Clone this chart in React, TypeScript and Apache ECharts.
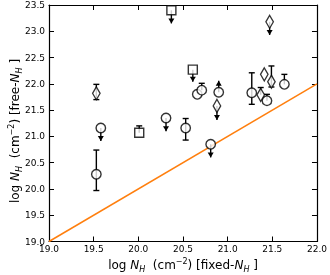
import React, { useEffect, useRef } from "react";
import * as echarts from "echarts";

// [x, y, yLow, yHigh, limit]  limit: 0 = error bar, -1 = upper limit (arrow down), 1 = lower limit (arrow up)
const circlePoints: number[][] = [
  [19.53, 20.28, 19.97, 20.74, 0],
  [19.58, 21.16, 20.91, 21.16, -1],
  [20.31, 21.35, 21.1, 21.35, -1],
  [20.53, 21.16, 20.93, 21.34, 0],
  [20.66, 21.8, 21.8, 21.8, 0],
  [20.71, 21.88, 21.88, 22.01, 0],
  [20.9, 21.84, 21.84, 22.06, 1],
  [20.81, 20.85, 20.6, 20.85, -1],
  [21.27, 21.83, 21.61, 22.21, 0],
  [21.44, 21.68, 21.68, 21.8, 0],
  [21.635, 21.99, 21.99, 22.18, 0],
];
const squarePoints: number[][] = [
  [20.01, 21.07, 21.07, 21.2, 0],
  [20.37, 23.4, 23.15, 23.4, -1],
  [20.61, 22.27, 22.04, 22.27, -1],
];
const diamondPoints: number[][] = [
  [19.53, 21.82, 21.7, 21.99, 0],
  [20.88, 21.58, 21.31, 21.58, -1],
  [21.37, 21.79, 21.79, 21.93, 0],
  [21.41, 22.18, 22.18, 22.18, 0],
  [21.49, 22.04, 21.94, 22.34, 0],
  [21.47, 23.18, 22.93, 23.18, -1],
];
const oneToOne: number[][] = [
  [19, 19],
  [22, 22],
];
const xRange = [19, 22];
const yRange = [19, 23.5];
const tickStep = 0.5;

const FONT = "DejaVu Sans";

function renderErr(params: any, api: any) {
  const x = api.value(0);
  const y = api.value(1);
  const lo = api.value(2);
  const hi = api.value(3);
  const lim = api.value(4);
  const pc = api.coord([x, y]);
  const pl = api.coord([x, lo]);
  const ph = api.coord([x, hi]);
  const st = { stroke: "#000", lineWidth: 1.4 };
  const children: any[] = [];
  children.push({ type: "line", shape: { x1: pc[0], y1: pl[1], x2: pc[0], y2: ph[1] }, style: st });
  const cw = 3;
  if (lim === 0) {
    if (Math.abs(lo - y) > 1e-6)
      children.push({ type: "line", shape: { x1: pc[0] - cw, y1: pl[1], x2: pc[0] + cw, y2: pl[1] }, style: st });
    if (Math.abs(hi - y) > 1e-6)
      children.push({ type: "line", shape: { x1: pc[0] - cw, y1: ph[1], x2: pc[0] + cw, y2: ph[1] }, style: st });
  } else if (lim === -1) {
    children.push({
      type: "polygon",
      shape: { points: [[pc[0] - 3, pl[1] - 5], [pc[0] + 3, pl[1] - 5], [pc[0], pl[1]]] },
      style: { fill: "#000" },
    });
  } else {
    children.push({
      type: "polygon",
      shape: { points: [[pc[0] - 3, ph[1] + 5], [pc[0] + 3, ph[1] + 5], [pc[0], ph[1]]] },
      style: { fill: "#000" },
    });
  }
  return { type: "group", children };
}

const richStyles = {
  a: { fontFamily: FONT, fontSize: 12, color: "#000", lineHeight: 16 },
  i: { fontFamily: FONT, fontSize: 12, fontStyle: "italic", color: "#000", lineHeight: 16 },
  sub: { fontFamily: FONT, fontSize: 8, fontStyle: "italic", color: "#000", lineHeight: 10, verticalAlign: "bottom" },
  sup: { fontFamily: FONT, fontSize: 8, color: "#000", lineHeight: 10, verticalAlign: "top" },
};

export default function App() {
  const ref = useRef<HTMLDivElement>(null);
  useEffect(() => {
    if (!ref.current) return;
    const chart = echarts.init(ref.current, null, { renderer: "svg" });
    const axisCommon = {
      type: "value",
      interval: tickStep,
      splitLine: { show: false },
      axisLine: { show: true, lineStyle: { color: "#000", width: 1.2 } },
      axisTick: { show: true, inside: true, length: 5, lineStyle: { color: "#000", width: 1 } },
    };
    const labelStyle = {
      fontFamily: FONT,
      fontSize: 9,
      color: "#000",
      formatter: (v: number) => v.toFixed(1),
    };
    const scatterStyle = { color: "#fff", borderColor: "#000", borderWidth: 1.4 };
    const errSeries = (data: number[][]) => ({
      type: "custom",
      renderItem: renderErr,
      data,
      encode: { x: 0, y: 1 },
      clip: false,
      z: 1,
      silent: true,
    });
    chart.setOption({
      animation: false,
      grid: { left: 49, top: 5, right: 13, bottom: 33.5 },
      xAxis: [
        {
          ...axisCommon,
          position: "bottom",
          min: xRange[0],
          max: xRange[1],
          axisLabel: { ...labelStyle, margin: 3 },
        },
        {
          ...axisCommon,
          position: "top",
          min: xRange[0],
          max: xRange[1],
          axisLabel: { show: false },
        },
      ],
      yAxis: [
        {
          ...axisCommon,
          position: "left",
          min: yRange[0],
          max: yRange[1],
          axisLabel: { ...labelStyle, margin: 4 },
        },
        {
          ...axisCommon,
          position: "right",
          min: yRange[0],
          max: yRange[1],
          axisLabel: { show: false },
        },
      ],
      series: [
        {
          type: "line",
          data: oneToOne,
          symbol: "none",
          lineStyle: { color: "#ff7f0e", width: 1.5 },
          z: 0,
          silent: true,
        },
        errSeries(circlePoints),
        errSeries(squarePoints),
        errSeries(diamondPoints),
        {
          type: "scatter",
          data: circlePoints.map((p) => [p[0], p[1]]),
          symbol: "circle",
          symbolSize: 9.5,
          itemStyle: scatterStyle,
          z: 3,
        },
        {
          type: "scatter",
          data: squarePoints.map((p) => [p[0], p[1]]),
          symbol: "rect",
          symbolSize: 9,
          itemStyle: scatterStyle,
          z: 3,
        },
        {
          type: "scatter",
          data: diamondPoints.map((p) => [p[0], p[1]]),
          symbol: "diamond",
          symbolSize: [7.5, 13],
          itemStyle: scatterStyle,
          z: 3,
        },
      ],
      graphic: [
        {
          type: "text",
          x: 183,
          y: 265,
          style: {
            text: "{a|log }{i|N}{sub|H}{a|  (cm}{sup|−2}{a|) [fixed-}{i|N}{sub|H}{a| ]}",
            rich: richStyles,
            align: "center",
            verticalAlign: "middle",
          },
        },
        {
          type: "text",
          x: 15,
          y: 131,
          rotation: Math.PI / 2,
          style: {
            text: "{a|log }{i|N}{sub|H}{a|  (cm}{sup|−2}{a|) [free-}{i|N}{sub|H}{a| ]}",
            rich: richStyles,
            align: "center",
            verticalAlign: "middle",
          },
        },
      ],
    });
    return () => chart.dispose();
  }, []);
  return (
    <div
      ref={ref}
      style={{ position: "fixed", left: 0, top: 0, width: 330, height: 275 }}
    />
  );
}
